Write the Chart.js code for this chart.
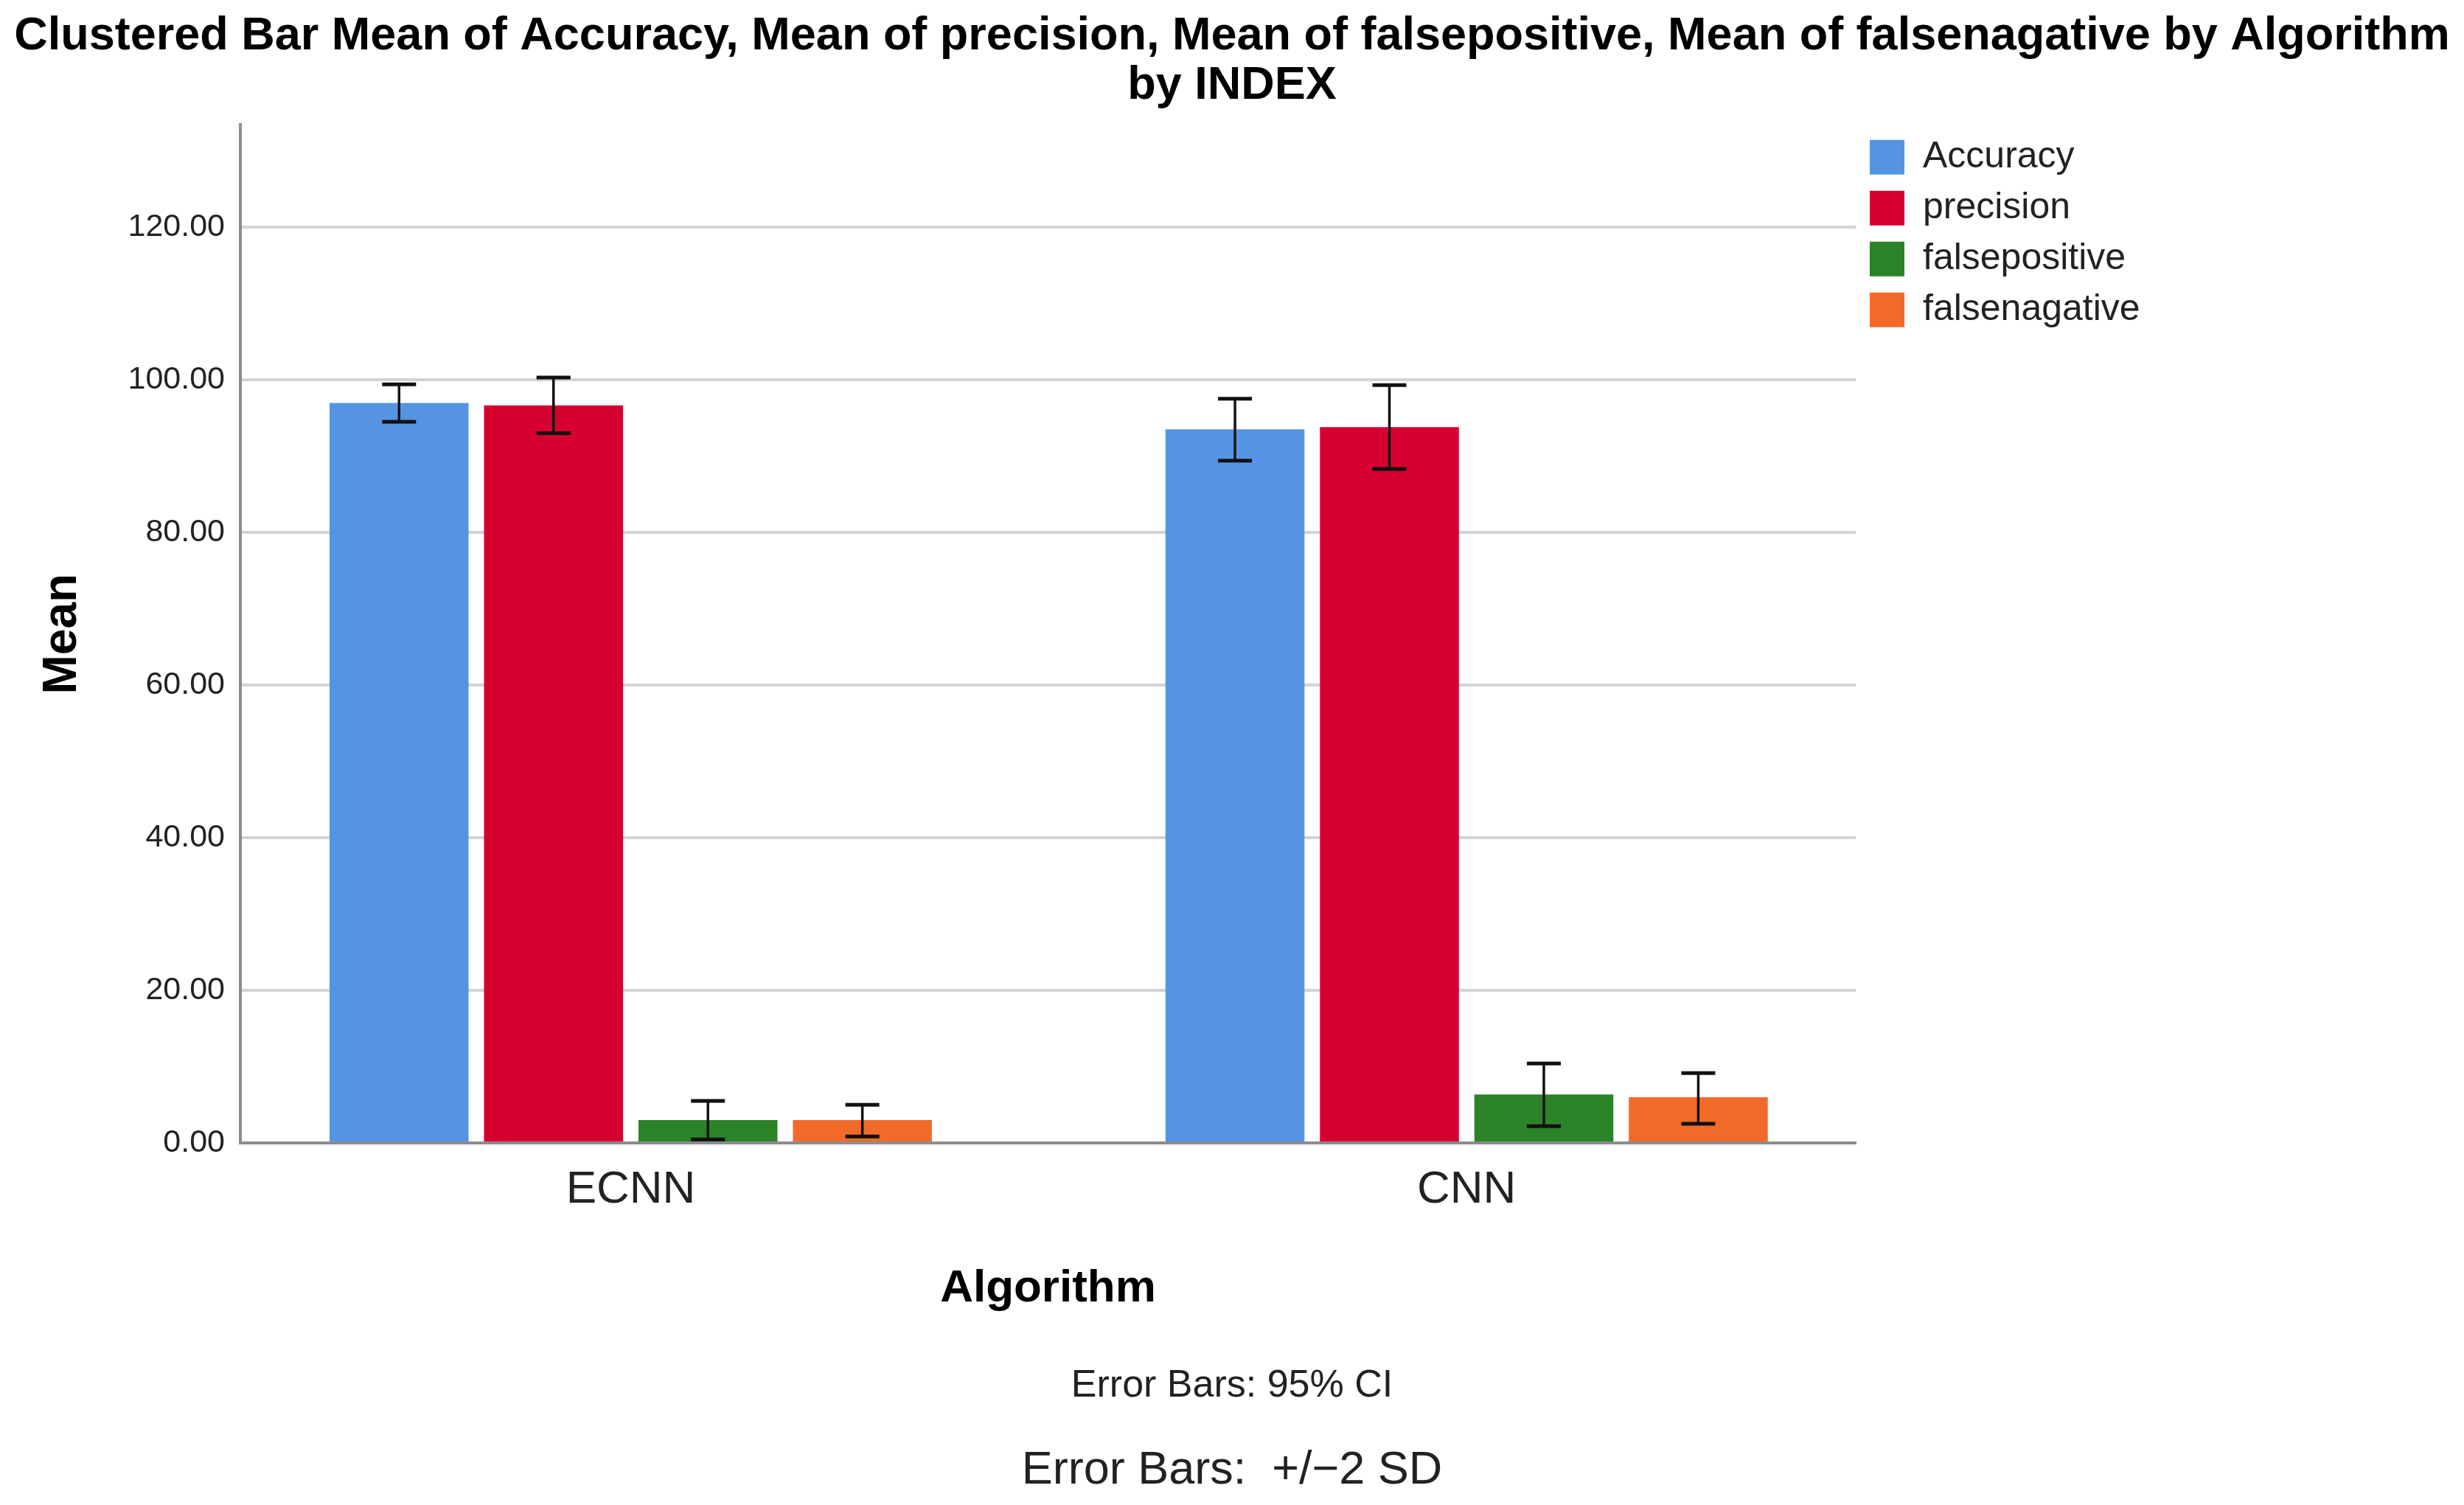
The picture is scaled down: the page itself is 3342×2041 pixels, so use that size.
<!DOCTYPE html>
<html>
<head>
<meta charset="utf-8">
<title>Clustered Bar Mean by Algorithm by INDEX</title>
<script src="https://cdn.jsdelivr.net/npm/chart.js@4.4.1/dist/chart.umd.min.js"></script>
<style>
  html, body { margin: 0; padding: 0; background: #fff; }
  #chart { display: block; }
</style>
</head>
<body>
<canvas id="chart" width="3342" height="2041"></canvas>
<script>
const algorithms = ['ECNN', 'CNN'];
const seriesNames = ['Accuracy', 'precision', 'falsepositive', 'falsenagative'];
const seriesColors = ['#5594e2', '#d60030', '#2a8427', '#f26a2a'];

// means and 95% CI bounds, per algorithm
const accuracyMean = [96.95, 93.5];
const accuracyLow = [94.5, 89.4];
const accuracyHigh = [99.4, 97.5];

const precisionMean = [96.65, 93.8];
const precisionLow = [93.0, 88.3];
const precisionHigh = [100.3, 99.3];

const falsepositiveMean = [3.0, 6.35];
const falsepositiveLow = [0.45, 2.2];
const falsepositiveHigh = [5.5, 10.4];

const falsenagativeMean = [3.0, 6.0];
const falsenagativeLow = [0.85, 2.5];
const falsenagativeHigh = [5.0, 9.15];

const yTicks = [0, 20, 40, 60, 80, 100, 120];

const titleLines = [
    'Clustered Bar Mean of Accuracy, Mean of precision, Mean of falsepositive, Mean of falsenagative by Algorithm',
    'by INDEX'
];
const footnotes = ['Error Bars: 95% CI', 'Error Bars:  +/\u22122 SD'];

const FONT = "'Liberation Sans', Arial, sans-serif";

const means = [accuracyMean, precisionMean, falsepositiveMean, falsenagativeMean];
const lows = [accuracyLow, precisionLow, falsepositiveLow, falsenagativeLow];
const highs = [accuracyHigh, precisionHigh, falsepositiveHigh, falsenagativeHigh];

const datasets = seriesNames.map((name, i) => ({
    label: name,
    data: means[i].map((v, j) => ({ x: j, y: v })),
    errLow: lows[i],
    errHigh: highs[i],
    backgroundColor: seriesColors[i],
    borderWidth: 0,
    categoryPercentage: 0.739,
    barPercentage: 0.9
}));

// draws the whisker + caps for every bar
const errorBarPlugin = {
    id: 'errorBars',
    afterDatasetsDraw(chart) {
        const ctx = chart.ctx;
        const yScale = chart.scales.y;
        ctx.save();
        ctx.strokeStyle = '#111';
        chart.data.datasets.forEach((ds, i) => {
            const meta = chart.getDatasetMeta(i);
            meta.data.forEach((bar, j) => {
                const top = yScale.getPixelForValue(ds.errHigh[j]);
                const bottom = yScale.getPixelForValue(ds.errLow[j]);
                const half = 23;
                ctx.lineWidth = 3.5;
                ctx.beginPath();
                ctx.moveTo(bar.x, top);
                ctx.lineTo(bar.x, bottom);
                ctx.stroke();
                ctx.lineWidth = 5;
                ctx.beginPath();
                ctx.moveTo(bar.x - half, top);
                ctx.lineTo(bar.x + half, top);
                ctx.moveTo(bar.x - half, bottom);
                ctx.lineTo(bar.x + half, bottom);
                ctx.stroke();
            });
        });
        ctx.restore();
    }
};

// legend sits flush against the plot, filling the right margin
const legendWidthPlugin = {
    id: 'legendWidth',
    beforeLayout(chart) {
        const lg = chart.legend;
        if (lg && !lg._fixedWidth) {
            const fit = lg.fit;
            lg.fit = function () {
                fit.call(this);
                this.width = 825;
            };
            lg._fixedWidth = true;
        }
    }
};

const footnotePlugin = {
    id: 'footnotes',
    afterDraw(chart) {
        const ctx = chart.ctx;
        ctx.save();
        ctx.fillStyle = '#222';
        ctx.textAlign = 'center';
        ctx.textBaseline = 'middle';
        ctx.font = '52px ' + FONT;
        ctx.fillText(footnotes[0], chart.width / 2, chart.height - 161);
        ctx.font = '63px ' + FONT;
        ctx.fillText(footnotes[1], chart.width / 2, chart.height - 46);
        ctx.restore();
    }
};

const ctx = document.getElementById('chart').getContext('2d');
window.chart = new Chart(ctx, {
    type: 'bar',
    data: { datasets: datasets },
    plugins: [errorBarPlugin, legendWidthPlugin, footnotePlugin],
    options: {
        responsive: false,
        devicePixelRatio: 1,
        animation: false,
        layout: { padding: { left: 0, right: 0, top: 0, bottom: 200 } },
        plugins: {
            tooltip: { enabled: false },
            title: {
                display: true,
                text: titleLines,
                color: '#000',
                font: { family: FONT, size: 63, weight: 'bold', lineHeight: 1.05 },
                padding: { top: 17, bottom: 20 }
            },
            legend: {
                position: 'right',
                align: 'start',
                fullSize: false,
                labels: {
                    color: '#222',
                    font: { family: FONT, size: 50 },
                    boxWidth: 47,
                    boxHeight: 47,
                    padding: 19
                }
            }
        },
        scales: {
            x: {
                type: 'linear',
                min: -0.467,
                max: 1.4655,
                bounds: 'data',
                offset: false,
                grid: { display: false, drawTicks: false },
                border: { display: true, color: '#8c8c8c', width: 4 },
                afterBuildTicks: (scale) => {
                    scale.ticks = algorithms.map((_, i) => ({ value: i }));
                },
                afterFit: (scale) => { scale.height = 291; },
                ticks: {
                    color: '#222',
                    padding: 27,
                    maxRotation: 0,
                    font: { family: FONT, size: 62 },
                    callback: (v) => algorithms[v]
                },
                title: {
                    display: true,
                    text: 'Algorithm',
                    color: '#000',
                    font: { family: FONT, size: 62, weight: 'bold' },
                    padding: { top: 0, bottom: 56 }
                }
            },
            y: {
                min: 0,
                max: 133.4,
                bounds: 'data',
                afterBuildTicks: (scale) => {
                    scale.ticks = yTicks.map(v => ({ value: v }));
                },
                afterFit: (scale) => { scale.width = 326; },
                grid: {
                    drawTicks: false,
                    lineWidth: 4,
                    color: (c) => (c.tick && c.tick.value === 0) ? 'rgba(0,0,0,0)' : '#d3d3d3'
                },
                border: { display: true, color: '#8c8c8c', width: 4 },
                ticks: {
                    color: '#222',
                    padding: 21,
                    font: { family: FONT, size: 43 },
                    callback: (v) => Number(v).toFixed(2)
                },
                title: {
                    display: true,
                    text: 'Mean',
                    color: '#000',
                    font: { family: FONT, size: 64, weight: 'bold' },
                    padding: { top: 47, bottom: 0 }
                }
            }
        }
    }
});
</script>
</body>
</html>
